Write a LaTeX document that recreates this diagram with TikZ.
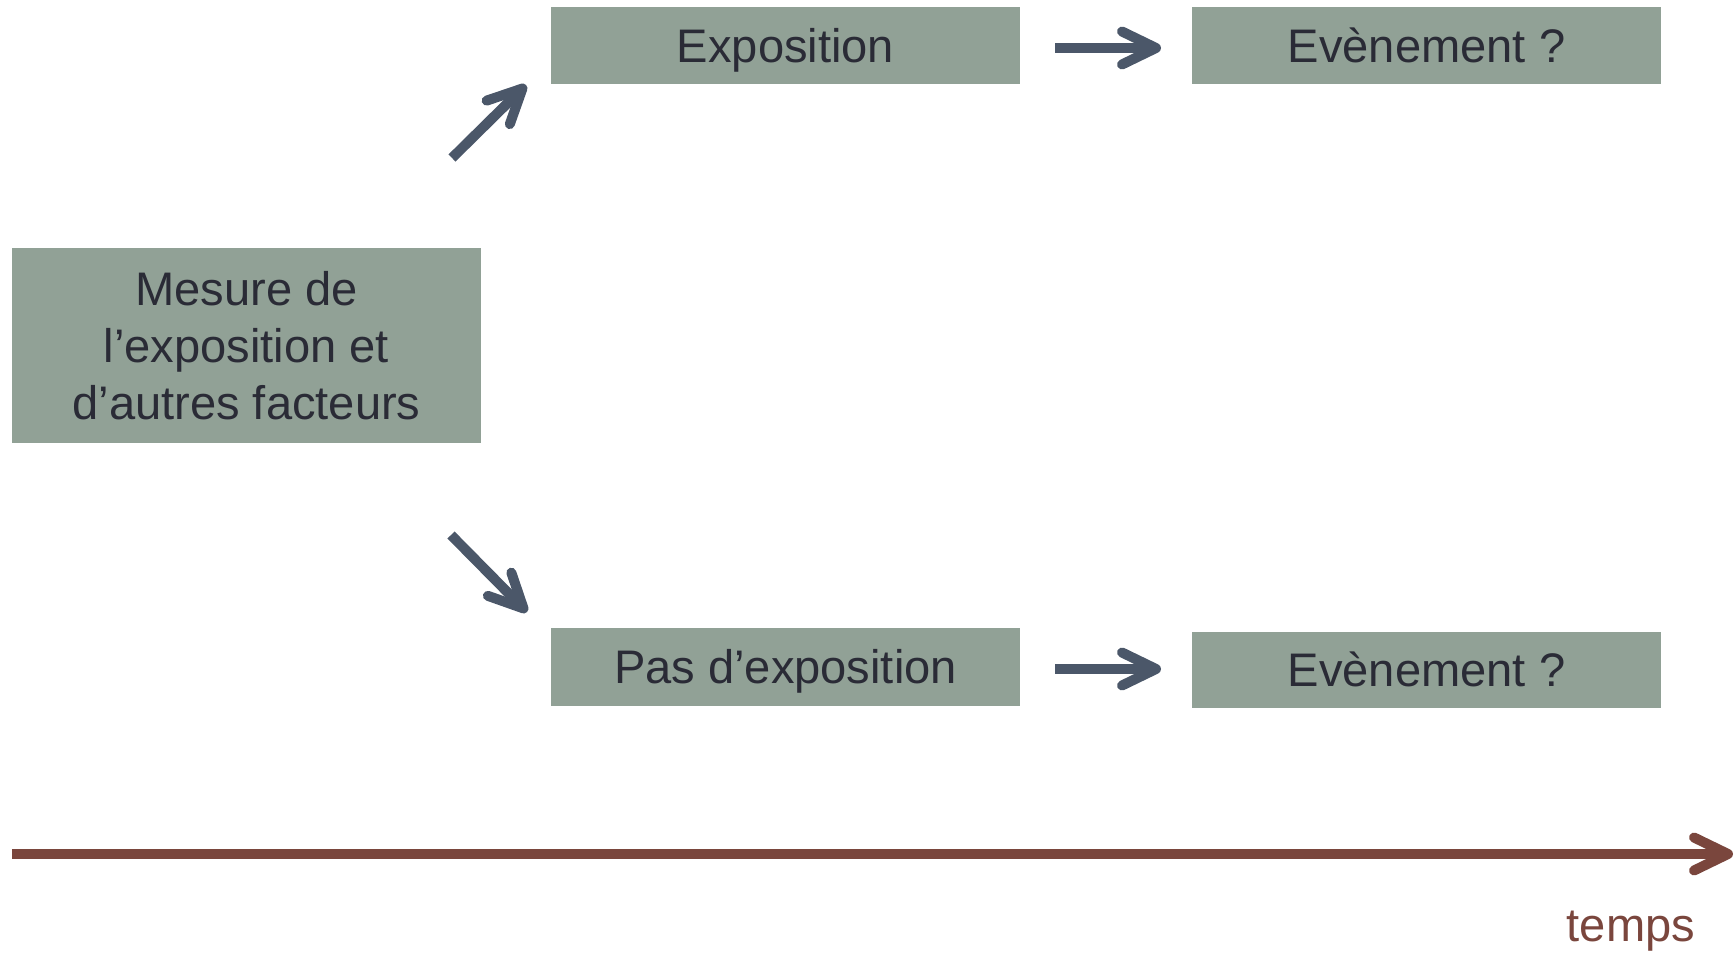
\documentclass[tikz,border=0pt]{standalone}
\usepackage{fontspec}
\setmainfont{Liberation Sans}
\usetikzlibrary{arrows.meta}
\definecolor{boxgreen}{HTML}{91A196}
\definecolor{txtdark}{HTML}{2A2B36}
\definecolor{arrgray}{HTML}{4B5769}
\definecolor{timebrown}{HTML}{7A463D}
\begin{document}
\begin{tikzpicture}[
  every node/.style={font=\fontsize{13.4}{16.3}\selectfont, text=txtdark},
  box/.style={fill=boxgreen, inner sep=0pt, minimum width=4.69cm},
  onebox/.style={box, text depth=0pt, text height=0.336cm},
  fl/.style={draw=arrgray, line width=1mm,
    -{Straight Barb[length=3.4mm, width=3.3mm, line cap=round, line join=round]}},
  tl/.style={draw=timebrown, line width=1mm,
    -{Straight Barb[length=3.4mm, width=3.3mm, line cap=round, line join=round]}}
]
\useasboundingbox (0,0) rectangle (17.35,-9.53);
\node[box, minimum height=1.95cm, align=center] (mes) at (2.465,-3.455) {Mesure de\\l’exposition et\\d’autres facteurs};
\node[onebox, minimum height=0.77cm] (expo) at (7.855,-0.46) {Exposition};
\node[onebox, minimum height=0.77cm] (ev1) at (14.265,-0.46) {Evènement ?};
\node[onebox, minimum height=0.78cm] (pas) at (7.855,-6.665) {Pas d’exposition};
\node[onebox, minimum height=0.76cm] (ev2) at (14.265,-6.70) {Evènement ?};

\coordinate (u0) at (4.52,-1.58);
\coordinate (u1) at (5.26,-0.85);
\draw[fl] (u0) -- (u1);
\coordinate (d0) at (4.51,-5.35);
\coordinate (d1) at (5.27,-6.12);
\draw[fl] (d0) -- (d1);
\coordinate (q0) at (10.20,-0.48);
\coordinate (q1) at (11.92,-0.48);
\draw[fl, shorten <=0.35cm, shorten >=0.31cm] (q0) -- (q1);
\coordinate (p0) at (10.20,-6.69);
\coordinate (p1) at (11.92,-6.69);
\draw[fl, shorten <=0.35cm, shorten >=0.31cm] (p0) -- (p1);

\coordinate (t0) at (0.12,-8.54);
\coordinate (t1) at (17.33,-8.54);
\draw[tl] (t0) -- (t1);
\node[text=timebrown] (temps) at (16.31,-9.31) {temps};
\end{tikzpicture}
\end{document}
